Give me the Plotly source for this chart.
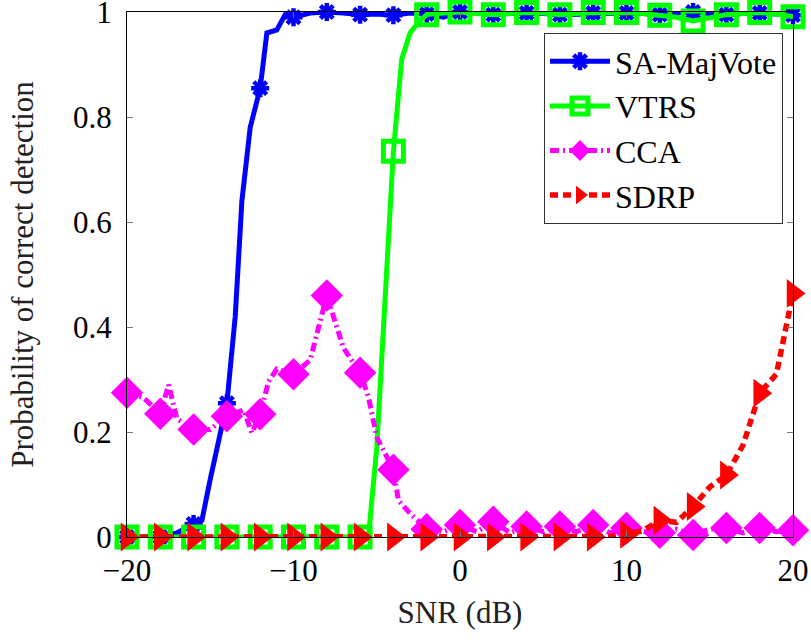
import plotly.graph_objects as go

# ---------------- data ----------------
snr_ticks = [-20, -10, 0, 10, 20]
y_ticks = [0, 0.2, 0.4, 0.6, 0.8, 1]
y_tick_text = ["0", "0.2", "0.4", "0.6", "0.8", "1"]

marker_snr = [-20, -18, -16, -14, -12, -10, -8, -6, -4, -2, 0, 2, 4, 6, 8, 10, 12, 14, 16, 18, 20]

# SA-MajVote
sa_line_x = [-20, -19, -18, -17, -16, -15.5, -15, -14, -13.5, -13.1, -12.6, -12, -11.6, -11, -10.5, -10,
             -9, -8, -7, -6, -5, -4, -3, -2, -1, 0, 1, 2, 3, 4, 5, 6, 7, 8, 9, 10,
             11, 12, 13, 14, 15, 16, 17, 18, 19, 20]
sa_line_y = [0, 0, 0, 0.008, 0.025, 0.032, 0.11, 0.255, 0.42, 0.64, 0.78, 0.855, 0.96, 0.966, 0.995, 0.99,
             0.998, 1.0, 0.998, 0.995, 0.996, 0.994, 0.998, 0.996, 0.99, 1.0, 0.998, 0.995, 0.997, 0.998, 0.997, 0.995, 0.996, 0.998, 0.997, 0.998,
             0.997, 0.995, 0.998, 1.0, 0.997, 0.995, 0.997, 0.998, 0.996, 0.994]
sa_marker_y = [0, 0, 0.025, 0.255, 0.855, 0.99, 1.0, 0.995, 0.994, 0.996, 1.0, 0.995, 0.998, 0.995,
               0.998, 0.998, 0.995, 1.0, 0.995, 0.998, 0.994]

# VTRS
vtrs_line_x = [-20, -19, -18, -17, -16, -15, -14, -13, -12, -11, -10, -9, -8, -7, -6, -5.5, -5, -4.5, -4,
               -3.5, -3, -2.5, -2, -1, 0, 1, 2, 3, 4, 5, 6, 7, 8, 9, 10, 11, 12, 13, 14, 15, 16, 17, 18, 19, 20]
vtrs_line_y = [0, 0, 0, 0, 0, 0, 0, 0, 0, 0, 0, 0, 0, 0, 0, 0, 0.17, 0.46, 0.735,
               0.91, 0.96, 0.98, 0.995, 0.998, 1.0, 0.997, 0.995, 0.997, 0.999, 0.998, 0.995, 0.997, 0.999, 0.998, 0.999,
               0.997, 0.994, 0.99, 0.983, 0.99, 0.995, 0.997, 0.999, 0.996, 0.991]
vtrs_marker_y = [0, 0, 0, 0, 0, 0, 0, 0, 0.735, 0.995, 1.0, 0.995, 0.999, 0.995, 0.999, 0.999, 0.994,
                 0.983, 0.995, 0.999, 0.991]

# CCA
cca_line_x = [-20, -19, -18, -17.5, -17, -16, -15, -14, -13, -12.5, -12, -11.5, -11, -10, -9, -8.5, -8,
              -7.5, -7, -6, -5.5, -5, -4, -3.7, -3, -2, -1, 0, 1, 2, 3, 4, 5, 6, 7, 8, 9, 10,
              11, 12, 13, 14, 15, 16, 17, 18, 19, 20]
cca_line_y = [0.275, 0.265, 0.235, 0.29, 0.225, 0.205, 0.205, 0.23, 0.242, 0.198, 0.234, 0.296, 0.32, 0.31, 0.337, 0.40, 0.46,
              0.41, 0.36, 0.313, 0.267, 0.19, 0.128, 0.07, 0.045, 0.015, 0.01, 0.023, 0.01, 0.029, 0.008, 0.02, 0.01, 0.02, 0.01, 0.023, 0.008, 0.017,
              0.01, 0.008, 0.015, 0.004, 0.015, 0.017, 0.008, 0.017, 0.01, 0.013]
cca_marker_y = [0.275, 0.235, 0.205, 0.23, 0.234, 0.31, 0.46, 0.313, 0.128, 0.015, 0.023, 0.029, 0.02,
                0.02, 0.023, 0.017, 0.008, 0.004, 0.017, 0.017, 0.013]

# SDRP
sdrp_line_x = [-20, -18, -16, -14, -12, -10, -8, -6, -4, -2, 0, 2, 4, 6, 8, 9, 10, 11, 12, 13, 14, 15, 16,
               17, 18, 19, 20]
sdrp_line_y = [0, 0, 0, 0, 0, 0, 0, 0, 0, 0, 0, 0, 0, 0, 0, 0.001, 0.005, 0.012, 0.032, 0.028, 0.058, 0.095, 0.118,
               0.175, 0.274, 0.31, 0.464]
sdrp_marker_y = [0, 0, 0, 0, 0, 0, 0, 0, 0, 0, 0, 0, 0, 0, 0, 0.005, 0.032, 0.058, 0.118, 0.274, 0.464]

names = ["SA-MajVote", "VTRS", "CCA", "SDRP"]

# ---------------- styling ----------------
FONT = "Liberation Serif, serif"
LEGEND_FONT = "Liberation Serif, Times New Roman, DejaVu Serif, serif"
BLUE = "#0000ff"
GREEN = "#00ff00"
MAGENTA = "#ff00ff"
RED = "#ff0000"

styles = [
    dict(line=dict(color=BLUE, width=5),
         marker=dict(symbol="asterisk", size=15, color=BLUE, line=dict(color=BLUE, width=4.5))),
    dict(line=dict(color=GREEN, width=5),
         marker=dict(symbol="square-open", size=20, color=GREEN, line=dict(color=GREEN, width=5))),
    dict(line=dict(color=MAGENTA, width=5, dash="9px,4px,2px,4px"),
         marker=dict(symbol="diamond", size=25, color=MAGENTA, line=dict(width=0))),
    dict(line=dict(color=RED, width=5.5, dash="8px,5px"),
         marker=dict(symbol="triangle-right", size=25, color=RED, line=dict(width=0))),
]

series = [
    (sa_line_x, sa_line_y, sa_marker_y),
    (vtrs_line_x, vtrs_line_y, vtrs_marker_y),
    (cca_line_x, cca_line_y, cca_marker_y),
    (sdrp_line_x, sdrp_line_y, sdrp_marker_y),
]

fig = go.Figure()
for name, (lx, ly, my), st in zip(names, series, styles):
    fig.add_trace(go.Scatter(x=lx, y=ly, mode="lines", line=st["line"], showlegend=False,
                             cliponaxis=False, hoverinfo="skip"))
    fig.add_trace(go.Scatter(x=marker_snr, y=my, mode="markers", marker=st["marker"], showlegend=False,
                             cliponaxis=False, name=name))
for name, st in zip(names, styles):
    fig.add_trace(go.Scatter(x=[None], y=[None], mode="lines+markers", name=name,
                             line=st["line"], marker=st["marker"]))

axis_common = dict(
    showline=True, linecolor="black", linewidth=1, mirror="ticks",
    ticks="inside", ticklen=6, tickwidth=1, tickcolor="#777777",
    showgrid=False, zeroline=False, ticklabeloverflow="allow", automargin=False,
    tickfont=dict(family=FONT, size=31, color="black"),
)

fig.update_xaxes(range=[-20, 20], tickvals=snr_ticks,
                 title=dict(text="SNR (dB)", font=dict(family=FONT, size=31, color="#222"), standoff=14),
                 ticklabelstandoff=6, **axis_common)
fig.update_yaxes(range=[0, 1], tickvals=y_ticks, ticktext=y_tick_text,
                 title=dict(text="Probability of correct detection", font=dict(family=FONT, size=31, color="#222"),
                            standoff=30),
                 ticklabelstandoff=8, **axis_common)

fig.update_layout(
    width=811, height=642,
    margin=dict(l=127, r=18, t=12, b=105, autoexpand=False),
    paper_bgcolor="white", plot_bgcolor="white",
    font=dict(family=FONT, color="black"),
    legend=dict(x=0.985, xanchor="right", y=0.96, yanchor="top",
                bgcolor="white", bordercolor="#333", borderwidth=1,
                font=dict(family=LEGEND_FONT, size=32, color="black"),
                itemwidth=60, tracegroupgap=0),
)

fig.write_html("out.html")
